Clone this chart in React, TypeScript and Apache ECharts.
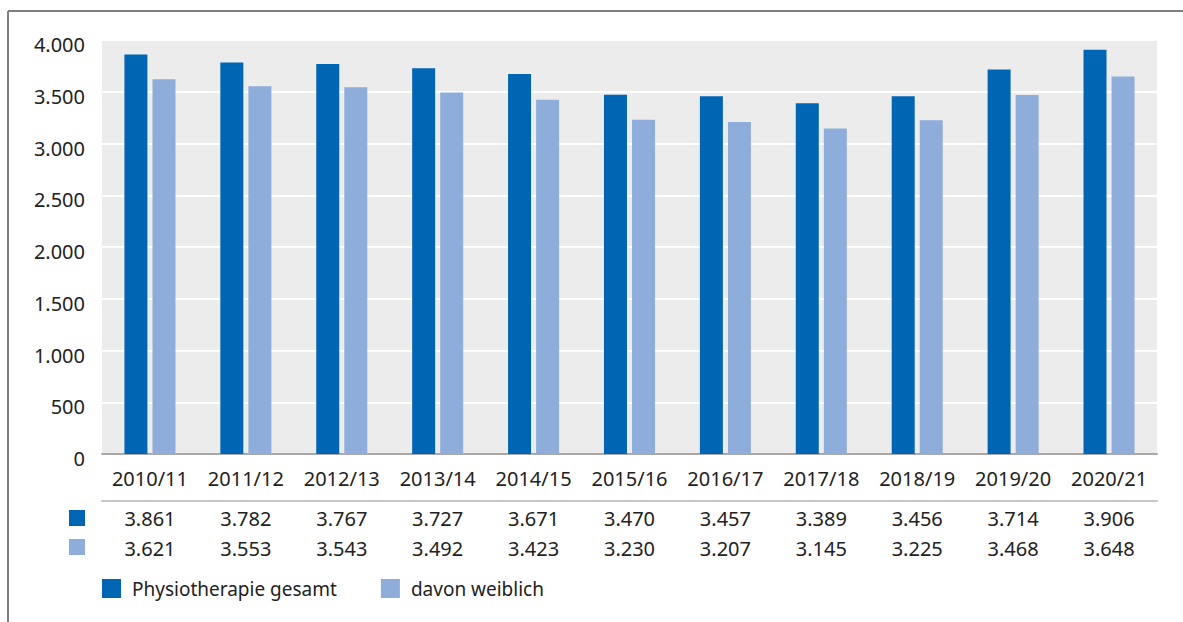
import React, { useEffect, useRef } from "react";
import * as echarts from "echarts";

const categories = ["2010/11", "2011/12", "2012/13", "2013/14", "2014/15", "2015/16", "2016/17", "2017/18", "2018/19", "2019/20", "2020/21"];
const gesamt = [3861, 3782, 3767, 3727, 3671, 3470, 3457, 3389, 3456, 3714, 3906];
const weiblich = [3621, 3553, 3543, 3492, 3423, 3230, 3207, 3145, 3225, 3468, 3648];
const seriesNames = ["Physiotherapie gesamt", "davon weiblich"];
const colors = ["#0066b3", "#8eaddb"];

const fmt = (v: number) => String(Math.round(v)).replace(/\B(?=(\d{3})+(?!\d))/g, ".");

const FONT = "'Noto Sans', sans-serif";
const TXT = "#222222";

export default function App() {
  const ref = useRef<HTMLDivElement>(null);
  useEffect(() => {
    if (!ref.current) return;
    const chart = echarts.init(ref.current, null, { renderer: "svg" });
    const tableAxis = (data: string[], offset: number, showLine: boolean) => ({
      type: "category",
      data,
      gridIndex: 0,
      position: "bottom",
      offset,
      axisLine: { show: showLine, lineStyle: { color: "#c8c8c8", width: 2 } },
      axisTick: { show: false },
      axisLabel: { interval: 0, margin: 7, fontSize: 20, lineHeight: 20, color: TXT, fontFamily: FONT },
    });
    chart.setOption({
      animation: false,
      textStyle: { fontFamily: FONT },
      grid: { left: 102, right: 26, top: 40, bottom: 168, show: true, backgroundColor: "#ececec", borderWidth: 0 },
      legend: {
        data: seriesNames,
        left: 102,
        top: 579,
        padding: 0,
        icon: "rect",
        itemWidth: 19,
        itemHeight: 19,
        itemGap: 44,
        textStyle: { fontSize: 19, color: TXT, fontFamily: FONT, padding: [0, 0, 0, 6] },
      },
      xAxis: [
        {
          type: "category",
          data: categories,
          axisLine: { show: true, lineStyle: { color: "#a8a8a8", width: 2 } },
          axisTick: { show: false },
          axisLabel: { interval: 0, margin: 14, fontSize: 20, lineHeight: 20, color: TXT, fontFamily: FONT },
        },
        tableAxis(gesamt.map(fmt), 47, true),
        tableAxis(weiblich.map(fmt), 77, false),
      ],
      yAxis: {
        type: "value",
        min: 0,
        max: 4000,
        interval: 500,
        axisLine: { show: false },
        axisTick: { show: false },
        splitLine: { lineStyle: { color: "#ffffff", width: 2 } },
        axisLabel: {
          margin: 17,
          color: TXT,
          fontFamily: FONT,
          fontSize: 20,
          formatter: (v: number) => "{a|" + fmt(v) + "}",
          rich: { a: { fontSize: 20, color: TXT, fontFamily: FONT, padding: [9, 0, 0, 0] } },
        },
      },
      series: [
        { name: seriesNames[0], type: "bar", data: gesamt, barWidth: 23, barGap: "22%", itemStyle: { color: colors[0] } },
        { name: seriesNames[1], type: "bar", data: weiblich, barWidth: 23, barGap: "22%", itemStyle: { color: colors[1] } },
      ],
      graphic: [
        { type: "line", shape: { x1: 8, y1: 11, x2: 1183, y2: 11 }, style: { stroke: "#7f7f7f", lineWidth: 2 } },
        { type: "line", shape: { x1: 8, y1: 11, x2: 8, y2: 622 }, style: { stroke: "#7f7f7f", lineWidth: 2 } },
        { type: "rect", shape: { x: 69, y: 510, width: 16, height: 16 }, style: { fill: colors[0] } },
        { type: "rect", shape: { x: 69, y: 539, width: 16, height: 16 }, style: { fill: colors[1] } },
      ],
    });
    return () => chart.dispose();
  }, []);
  return (
    <div style={{ position: "absolute", left: 0, top: 0, width: 1183, height: 622, background: "#fff" }}>
      <div ref={ref} style={{ width: 1183, height: 622 }} />
    </div>
  );
}
